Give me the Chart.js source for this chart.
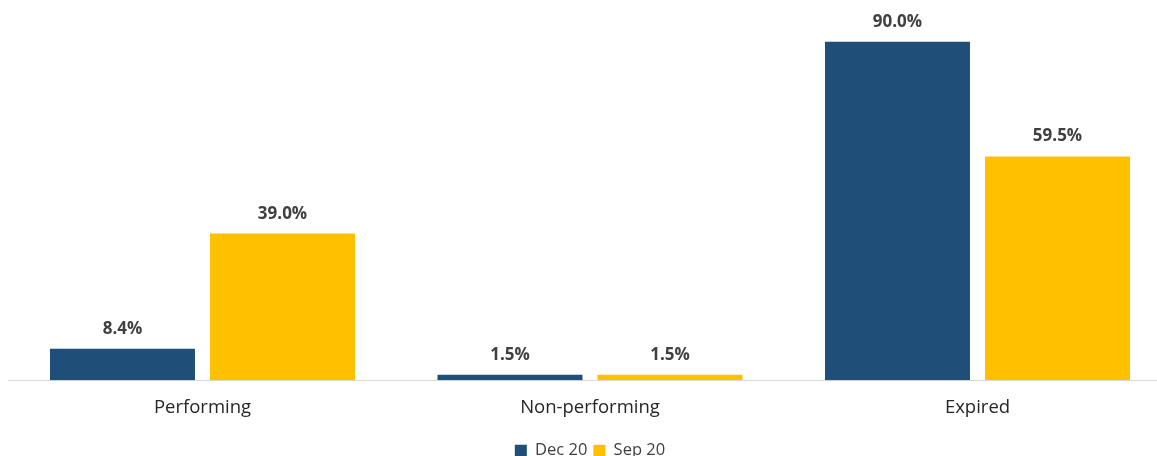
<!DOCTYPE html>
<html>
<head>
<meta charset="utf-8">
<script src="https://cdn.jsdelivr.net/npm/chart.js@4"></script>
<style>
    html, body { margin: 0; padding: 0; background: #ffffff; overflow: hidden; }
    #wrap { width: 1180px; height: 469px; position: relative; }
</style>
</head>
<body>
<div id="wrap"><canvas id="loanChart"></canvas></div>
<script>
const categories = ["Performing", "Non-performing", "Expired"];
const dec20 = [8.4, 1.5, 90.0];
const sep20 = [39.0, 1.5, 59.5];
const seriesNames = ["Dec 20", "Sep 20"];

const labelFont = "'Open Sans', 'Liberation Sans', sans-serif";

// draws the value above each bar
const valueLabels = {
    id: "valueLabels",
    afterDatasetsDraw(chart) {
        const ctx = chart.ctx;
        ctx.save();
        ctx.font = "bold 17px " + labelFont;
        ctx.fillStyle = "#404040";
        ctx.textAlign = "center";
        ctx.textBaseline = "alphabetic";
        chart.data.datasets.forEach((ds, i) => {
            chart.getDatasetMeta(i).data.forEach((bar, j) => {
                ctx.fillText(ds.data[j].toFixed(1) + "%", bar.x, bar.y - 15);
            });
        });
        ctx.restore();
    }
};

new Chart(document.getElementById("loanChart"), {
    type: "bar",
    data: {
        labels: categories,
        datasets: [
            { label: seriesNames[0], data: dec20, backgroundColor: "#1F4E79" },
            { label: seriesNames[1], data: sep20, backgroundColor: "#FFC000" }
        ]
    },
    options: {
        responsive: true,
        maintainAspectRatio: false,
        animation: false,
        categoryPercentage: 0.826,
        barPercentage: 0.906,
        layout: { padding: { left: 8.75, right: 8.75, top: 4, bottom: 0 } },
        scales: {
            x: {
                grid: { display: false },
                border: { color: "#d9d9d9", width: 1 },
                ticks: { color: "#262626", font: { family: labelFont, size: 18.5 }, padding: 8 },
                afterFit(scale) { scale.height += 10; }
            },
            y: {
                display: false,
                min: 0,
                max: 100
            }
        },
        plugins: {
            legend: {
                position: "bottom",
                labels: {
                    boxWidth: 12,
                    boxHeight: 12,
                    padding: 6,
                    color: "#404040",
                    font: { family: labelFont, size: 16.5 }
                }
            },
            tooltip: { enabled: false }
        }
    },
    plugins: [valueLabels]
});
</script>
</body>
</html>
